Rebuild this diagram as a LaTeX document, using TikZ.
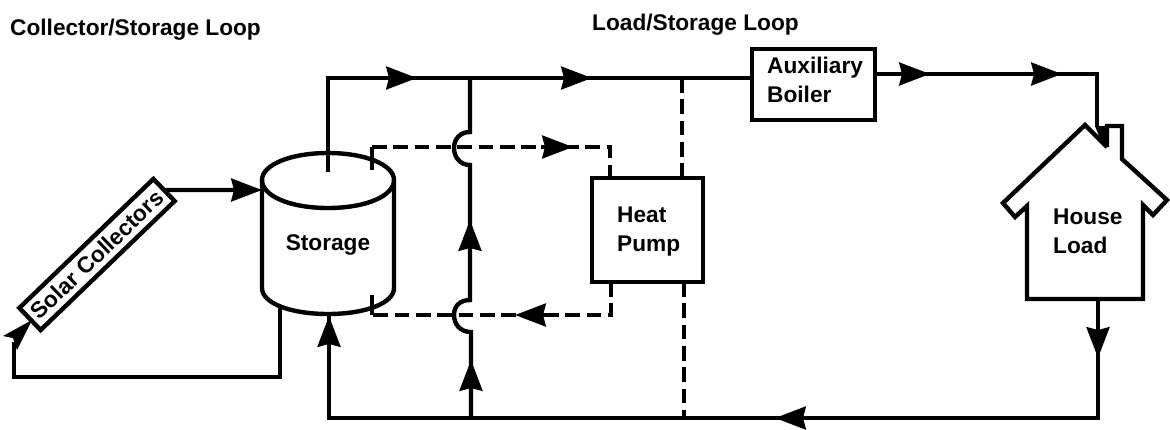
\documentclass[tikz,border=0pt]{standalone}
\usepackage{fontspec}
\setmainfont{Liberation Sans}
\usetikzlibrary{arrows.meta}
\tikzset{every picture/.style={line width=3.3pt}}
\tikzset{
  pipe/.style={line join=miter},
  flow/.style={-{Stealth[length=23pt,width=17pt,inset=2pt]}},
  dashpipe/.style={dash pattern=on 11pt off 5pt},
  unitbox/.style={draw,rectangle,outer sep=0pt,inner sep=0pt},
  label/.style={inner sep=0pt,align=left,font=\fontsize{17}{21.75}\selectfont\bfseries}
}

\begin{document}
\begin{tikzpicture}[x=0.75pt,y=0.75pt,yscale=-1,xscale=1]
\useasboundingbox (0,0) rectangle (1170,429);

%Shape: Rotated rectangle
\node (solar) [unitbox,label,rotate=43.9,minimum width=139.5pt,minimum height=23pt] at (97,254.5) {Solar Collectors};
%Shape: Heat pump
\node (pump) [unitbox,minimum width=83pt,minimum height=78pt] at (647.5,230) {};
%Shape: Boiler
\node (boiler) [unitbox,minimum width=92pt,minimum height=53pt] at (813.5,84.5) {};

%Shape: Cylinder
\draw [pipe] (262,180) .. controls (262,165) and (290,153) .. (328,153) .. controls (366,153) and (394,165) .. (394,180) .. controls (394,196) and (366,208) .. (328,208) .. controls (290,208) and (262,196) .. (262,180) -- cycle ;
\draw [pipe] (262,180) -- (262,288) .. controls (262,303) and (290,314) .. (328,314) .. controls (366,314) and (394,303) .. (394,288) -- (394,180) ;
%Shape: House
\draw [pipe] (1107,147) -- (1085,125) -- (1003,203) -- (1015,217) -- (1027,206) -- (1027,299) -- (1143,299) -- (1143,205) -- (1153,215) -- (1167,200) -- (1122,159) -- (1122,126) -- (1107,126) -- (1107,147) ;

% Text Node
\node (storagetext) [label] at (328,245) {Storage};
% Text Node
\node (housetext) [label,anchor=west] at (1051,231) {House\\Load};
% Text Node
\node (pumptext) [label,anchor=west] at (615,232) {Heat\\Pump};
% Text Node
\node (boilertext) [label,anchor=west] at (765,80) {Auxiliary\\Boiler};
% Text Node
\node (collectortitle) [label,anchor=west] at (8,30) {Collector/Storage Loop};
% Text Node
\node (loadtitle) [label,anchor=west] at (590,25) {Load/Storage Loop};

% Named points
\coordinate (storetop) at (328,172);
\coordinate (topcorner) at (328,78);
\coordinate (topa) at (417,78);
\coordinate (topb) at (592,78);
\coordinate (teeup) at (470,78);
\coordinate (bota) at (775,418);
\coordinate (botcorner) at (1098,418);
\coordinate (botleft) at (329,418);
\coordinate (storebot) at (329,316);
\coordinate (teedown) at (471,418);
\coordinate (upa) at (471,360);
\coordinate (upb) at (470,220);
\coordinate (boila) at (930,74);
\coordinate (boilb) at (1062,74);
\coordinate (housein) at (1097,74);
\coordinate (houseout) at (1098,299);
\coordinate (downa) at (1098,358);
\coordinate (storeside) at (262,190);
\coordinate (storeret) at (280,305);
\coordinate (solarin) at (32,320);
\coordinate (dashtop) at (372,147);
\coordinate (dashbot) at (372,315);
\coordinate (dasha) at (573,147);
\coordinate (dashb) at (515,315);
\coordinate (pumptop) at (610,147);
\coordinate (pumpbot) at (611,315);
\coordinate (elecup) at (682,78);
\coordinate (elecdown) at (684,418);

% Collector loop
\draw [pipe,flow] (solar.east) -- (storeside);
\draw [pipe] (storeret) -- (280,377) -- (14,377) -- (14,342);
\fill (solarin) -- (3,336) -- (13,338) -- (17,350) -- cycle;

% Load loop
\draw [pipe] (storetop) -- (topcorner) -- (boiler.west |- topcorner);
\draw [flow] (topa) ++(-32,0) -- (topa);
\draw [flow] (topb) ++(-32,0) -- (topb);
\draw [pipe] (boiler.east |- boila) -- (housein) -- (1097,127);
\draw [flow] (boila) ++(-32,0) -- (boila);
\draw [flow] (boilb) ++(-32,0) -- (boilb);
\fill (1095,126) -- (1107,126) -- (1107,147) -- (1103,146) -- cycle;
\draw [pipe] (houseout) -- (botcorner) -- (botleft) -- (storebot);
\draw [flow] (downa) ++(0,-32) -- (downa);
\draw [flow] (bota) ++(32,0) -- (bota);
\draw [flow] (storebot) ++(0,32) -- (storebot);

% Branch with hops
\draw [pipe] (teedown) -- (471,332) .. controls (460,332) and (454,324) .. (454,315) .. controls (454,306) and (460,300) .. (470,300) -- (470,165) .. controls (460,165) and (454,157) .. (454,148) .. controls (454,139) and (460,132) .. (470,132) -- (teeup);
\draw [flow] (upa) ++(0,32) -- (upa);
\draw [flow] (upb) ++(0,32) -- (upb);

% Heat pump lines
\draw [pipe] (372,170) -- (dashtop);
\draw [pipe] (372,295) -- (dashbot);
\draw [pipe,dashpipe] (dashtop) -- (pumptop) -- (pumptop |- pump.north);
\draw [flow] (dasha) ++(-32,0) -- (dasha);
\draw [pipe,dashpipe] (pumpbot |- pump.south) -- (pumpbot) -- (dashbot);
\draw [flow] (dashb) ++(32,0) -- (dashb);
\draw [pipe,dashpipe] (elecup) -- (elecup |- pump.north);
\draw [pipe,dashpipe] (elecdown |- pump.south) -- (elecdown);

\end{tikzpicture}
\end{document}
